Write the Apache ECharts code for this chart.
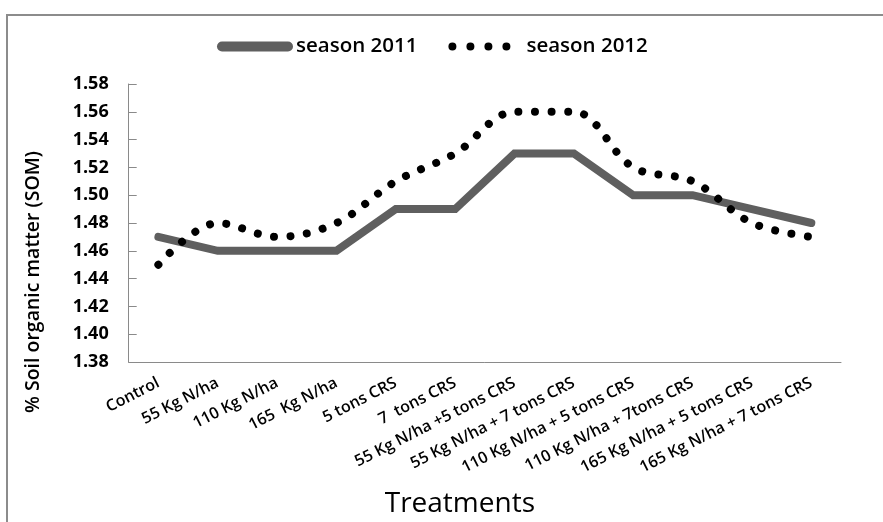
<!DOCTYPE html>
<html>
<head>
<meta charset="utf-8">
<script src="https://cdn.jsdelivr.net/npm/echarts@6/dist/echarts.min.js"></script>
<style>html,body{margin:0;padding:0;background:#fff;}#c{width:883px;height:522px;}</style>
</head>
<body>
<div id="c"></div>
<script>
var categories = ['Control','55 Kg N/ha','110 Kg N/ha','165  Kg N/ha','5 tons CRS','7  tons CRS','55 Kg N/ha +5 tons CRS','55 Kg N/ha + 7 tons CRS','110 Kg N/ha + 5 tons CRS','110 Kg N/ha + 7tons CRS','165 Kg N/ha + 5 tons CRS','165 Kg N/ha + 7 tons CRS'];
var season2011 = [1.47,1.46,1.46,1.46,1.49,1.49,1.53,1.53,1.50,1.50,1.49,1.48];
var season2012 = [1.45,1.48,1.47,1.48,1.51,1.53,1.56,1.56,1.52,1.51,1.48,1.47];
var yMin = 1.38, yMax = 1.58, yStep = 0.02;

var font = 'Open Sans';
var dotIcon = 'path://M0,0 L0.01,0 L0,0.01 Z M76,10 L75.99,10 L76,9.99 Z' +
  ' M1,5 A4,4 0 1 0 9,5 A4,4 0 1 0 1,5 Z' +
  ' M19,5 A4,4 0 1 0 27,5 A4,4 0 1 0 19,5 Z' +
  ' M37,5 A4,4 0 1 0 45,5 A4,4 0 1 0 37,5 Z' +
  ' M55,5 A4,4 0 1 0 63,5 A4,4 0 1 0 55,5 Z';
var chart = echarts.init(document.getElementById('c'), null, {renderer:'canvas'});
chart.setOption({
  animation:false,
  backgroundColor:'#fff',
  graphic:[{type:'rect',shape:{x:7,y:15,width:900,height:540},style:{fill:'none',stroke:'#8c8c8c',lineWidth:2},silent:true},
    {type:'text',rotation:Math.PI/2,x:33,y:282,style:{text:'% Soil organic matter (SOM)',font:'600 19.5px "Open Sans"',fill:'#000',align:'center',verticalAlign:'middle'}}],
  legend:{top:31,left:212,itemWidth:76,itemHeight:10,itemGap:30,
    textStyle:{fontFamily:font,fontSize:20.5,fontWeight:600,color:'#000',padding:[0,0,0,-2]},
    data:[{name:'season 2011',icon:'path://M5,0 L71,0 A5,5 0 0 1 71,10 L5,10 A5,5 0 0 1 5,0 Z',itemStyle:{color:'#5f5f5f'}},
          {name:'season 2012',icon:dotIcon,itemStyle:{color:'#000'}}]},
  grid:{left:128.7,right:42,top:84,bottom:160,containLabel:false,outerBoundsMode:'none'},
  xAxis:{type:'category',data:categories,boundaryGap:true,
    name:'Treatments',nameLocation:'middle',nameGap:128,
    nameTextStyle:{fontFamily:font,fontSize:28,color:'#000',padding:[0,50,0,0]},
    axisLine:{lineStyle:{color:'#8a8a8a',width:1}},
    axisTick:{inside:true,length:7,lineStyle:{color:'#8a8a8a'}},
    axisLabel:{rotate:27,interval:0,margin:20,fontFamily:font,fontSize:16,fontWeight:600,color:'#000'}},
  yAxis:{type:'value',min:yMin,max:yMax,interval:yStep,
    axisLine:{show:true,lineStyle:{color:'#8a8a8a',width:1}},
    axisTick:{show:true,inside:true,length:8,lineStyle:{color:'#8a8a8a'}},
    splitLine:{show:false},
    axisLabel:{margin:20,fontFamily:font,fontSize:18,fontWeight:'bold',color:'#000',formatter:function(v){return v.toFixed(2);}}},
  series:[
    {name:'season 2011',type:'line',data:season2011,symbol:'none',
      lineStyle:{color:'#5f5f5f',width:8,cap:'round',join:'miter'},itemStyle:{color:'#5f5f5f'}},
    {name:'season 2012',type:'line',data:season2012,symbol:'none',smooth:0.35,
      lineStyle:{color:'#000',width:8,type:[0.01,16.5],cap:'round'},itemStyle:{color:'#000'}}
  ]
});
</script>
</body>
</html>
